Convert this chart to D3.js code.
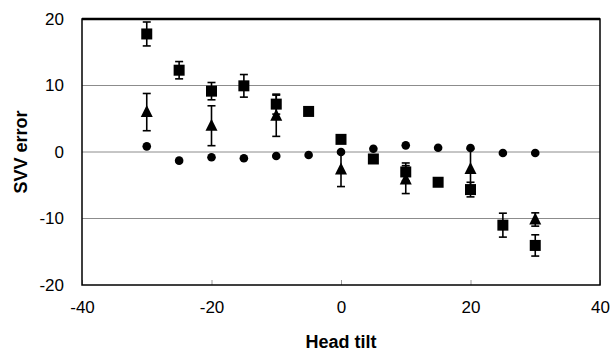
<!DOCTYPE html>
<html><head><meta charset="utf-8">
<script src="https://cdn.jsdelivr.net/npm/d3@7/dist/d3.min.js"></script>
<style>body{margin:0;background:#fff}svg{display:block}</style>
</head><body>
<svg id="c" width="610" height="352"></svg>
<script>
// ---- data ----
const xTicks = [-40, -20, 0, 20, 40];
const yTicks = [-20, -10, 0, 10, 20];
const gridValues = [-10, 0, 10];

const squareTilt = [-30, -25, -20, -15, -10, -5, 0, 5, 10, 15, 20, 25, 30];
const squareValue = [17.75, 12.3, 9.15, 9.95, 7.2, 6.1, 1.9, -1.05, -3.0, -4.55, -5.65, -11.0, -14.05];
const squareErr = [1.8, 1.3, 1.3, 1.7, 1.5, 0.4, 0.3, 0.3, 1.35, 0.3, 1.1, 1.8, 1.6];

const triTilt = [-30, -20, -10, 0, 10, 20, 30];
const triValue = [6.0, 3.95, 5.45, -2.65, -4.15, -2.55, -10.15];
const triErr = [2.8, 3.0, 3.1, 2.55, 2.1, 3.05, 1.0];

const circTilt = [-30, -25, -20, -15, -10, -5, 0, 5, 10, 15, 20, 25, 30];
const circValue = [0.85, -1.3, -0.8, -0.95, -0.6, -0.45, 0.0, 0.5, 1.0, 0.65, 0.6, -0.15, -0.15];

// ---- layout ----
const L = 82, R = 600, T = 19, B = 285;
const svg = d3.select("#c");
const x = d3.scaleLinear().domain([-40, 40]).range([L, R]);
const y = d3.scaleLinear().domain([-20, 20]).range([B, T]);
const font = "'Liberation Sans', Arial, sans-serif";
const fmt = d => String(d);

// grid
svg.append("g").selectAll("line").data(gridValues).join("line")
  .attr("x1", L).attr("x2", R)
  .attr("y1", d => y(d)).attr("y2", d => y(d))
  .attr("stroke", "#8c8c8c").attr("stroke-width", 1);

// x axis ticks (inward)
const xa = svg.append("g").attr("transform", `translate(0,${B})`)
  .call(d3.axisBottom(x).tickValues(xTicks).tickFormat(fmt).tickSizeInner(-5).tickSizeOuter(0));
xa.select(".domain").remove();
xa.selectAll(".tick line").attr("stroke", "#999");
xa.selectAll(".tick text").attr("font-family", font).attr("font-size", 17).attr("fill", "#000").attr("dy", "0.71em").attr("y", 16);

// y axis labels
const ya = svg.append("g").attr("transform", `translate(${L},0)`)
  .call(d3.axisLeft(y).tickValues(yTicks).tickFormat(fmt).tickSize(0).tickPadding(18));
ya.select(".domain").remove();
ya.selectAll(".tick text").attr("font-family", font).attr("font-size", 17).attr("fill", "#000");

// frame
svg.append("rect").attr("x", L).attr("y", T).attr("width", R - L).attr("height", B - T)
  .attr("fill", "none").attr("stroke", "#000").attr("stroke-width", 1.5);
svg.append("line").attr("x1", L).attr("x2", R).attr("y1", T).attr("y2", T)
  .attr("stroke", "#000").attr("stroke-width", 2.3);

// axis titles
svg.append("text").attr("x", x(0)).attr("y", 348).attr("text-anchor", "middle")
  .attr("font-family", font).attr("font-weight", "bold").attr("font-size", 18).text("Head tilt");
svg.append("text").attr("transform", `translate(27,${(T + B) / 2}) rotate(-90)`)
  .attr("text-anchor", "middle").attr("font-family", font).attr("font-weight", "bold")
  .attr("font-size", 18).text("SVV error");

// error bars
function errorBars(tilts, vals, errs) {
  const g = svg.append("g").attr("stroke", "#000").attr("stroke-width", 1.6);
  tilts.forEach((t, i) => {
    const cx = x(t), y1 = y(vals[i] + errs[i]), y2 = y(vals[i] - errs[i]);
    g.append("line").attr("x1", cx).attr("x2", cx).attr("y1", y1).attr("y2", y2);
    g.append("line").attr("x1", cx - 4).attr("x2", cx + 4).attr("y1", y1).attr("y2", y1);
    g.append("line").attr("x1", cx - 4).attr("x2", cx + 4).attr("y1", y2).attr("y2", y2);
  });
}
errorBars(triTilt, triValue, triErr);
errorBars(squareTilt, squareValue, squareErr);

// triangles
svg.append("g").selectAll("path").data(triTilt.map((t, i) => [t, triValue[i]])).join("path")
  .attr("d", d => {
    const cx = x(d[0]), cy = y(d[1]);
    return `M${cx},${cy - 7}L${cx + 6},${cy + 5}L${cx - 6},${cy + 5}Z`;
  }).attr("fill", "#000");

// squares
svg.append("g").selectAll("rect").data(squareTilt.map((t, i) => [t, squareValue[i]])).join("rect")
  .attr("x", d => x(d[0]) - 5.5).attr("y", d => y(d[1]) - 5.5)
  .attr("width", 11).attr("height", 11).attr("fill", "#000");

// circles
svg.append("g").selectAll("circle").data(circTilt.map((t, i) => [t, circValue[i]])).join("circle")
  .attr("cx", d => x(d[0])).attr("cy", d => y(d[1])).attr("r", 4.3).attr("fill", "#000");
</script>
</body></html>
